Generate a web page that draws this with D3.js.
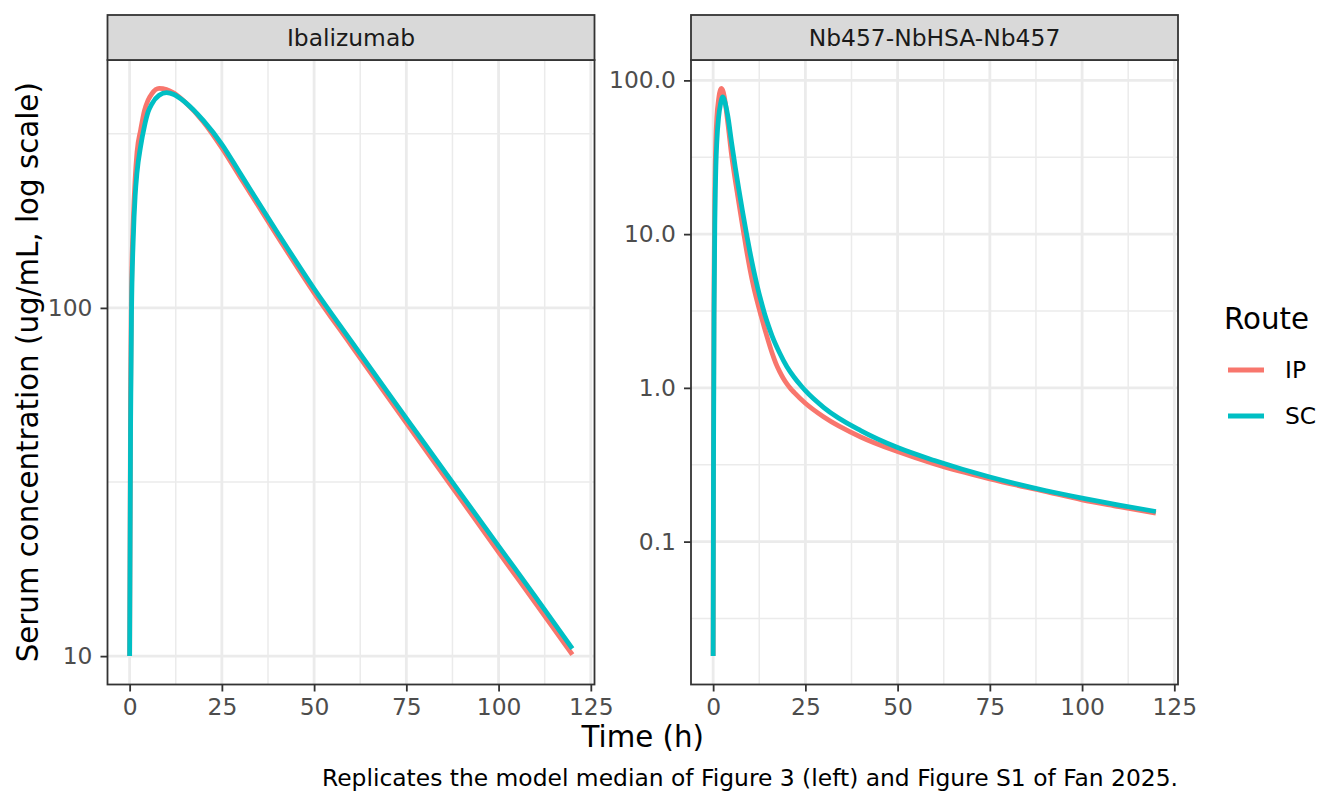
<!DOCTYPE html>
<html>
<head>
<meta charset="utf-8">
<script src="https://cdn.jsdelivr.net/npm/d3@7"></script>
<style>
  body { margin: 0; background: #ffffff; }
  svg { display: block; font-family: "DejaVu Sans", sans-serif; }
</style>
</head>
<body>
<svg></svg>
<script>
const width = 1344;
const height = 806;

const drugs = ["Ibalizumab", "Nb457-NbHSA-Nb457"];
const routes = ["IP", "SC"];
const routeColors = ["#F8766D", "#00BFC4"];

// Ibalizumab, time (h) and serum concentration (ug/mL)
const ibaIpTime = [0, 0.25, 0.5, 1, 1.5, 2, 3, 4, 5, 6, 8, 10, 12, 15, 20, 25, 30, 40, 50, 60, 70, 80, 90, 100, 110, 120];
const ibaIpConc = [10, 55, 110, 180, 235, 280, 325, 368, 395, 412, 427, 424, 414, 390, 342, 288, 237, 161, 110.5, 78.2, 55.4, 39.4, 28.0, 19.9, 14.2, 10.1];
const ibaScTime = [0, 0.25, 0.5, 1, 1.5, 2, 3, 4, 5, 6, 8, 10, 12, 15, 20, 25, 30, 40, 50, 60, 70, 80, 90, 100, 110, 120];
const ibaScConc = [10, 45, 95, 160, 210, 245, 292, 332, 365, 385, 408, 415, 410, 390, 345, 295, 243, 165, 113.5, 80.4, 57.1, 40.7, 29.0, 20.7, 14.8, 10.5];

// Nb457-NbHSA-Nb457
const nbIpTime = [0, 0.1, 0.25, 0.5, 0.75, 1, 1.5, 2, 2.2, 2.6, 3, 4, 5, 6, 7, 8, 9, 10, 11, 12, 13, 14, 15, 16, 17, 18, 19, 20, 21, 22, 25, 30, 40, 50, 60, 75, 90, 100, 110, 120];
const nbIpConc = [0.018, 0.5, 5, 22, 42, 57, 76, 87, 88.7, 86, 79, 52.5, 32.7, 22.4, 15.8, 11.2, 8.0, 5.89, 4.52, 3.61, 2.94, 2.41, 2.0, 1.68, 1.445, 1.28, 1.156, 1.062, 0.989, 0.931, 0.794, 0.646, 0.479, 0.385, 0.32, 0.256, 0.212, 0.187, 0.169, 0.153];
const nbScTime = [0, 0.1, 0.25, 0.5, 0.75, 1, 1.5, 2, 2.6, 3, 4, 5, 6, 7, 8, 9, 10, 11, 12, 13, 14, 15, 16, 18, 20, 22, 24, 25, 30, 40, 50, 60, 75, 90, 100, 110, 120];
const nbScConc = [0.018, 0.3, 3, 14, 28, 40, 58, 70, 78, 75, 58.2, 39.4, 27.2, 19.3, 13.9, 10.2, 7.6, 5.8, 4.55, 3.66, 3.0, 2.53, 2.17, 1.69, 1.37, 1.167, 1.02, 0.959, 0.745, 0.527, 0.409, 0.337, 0.263, 0.215, 0.192, 0.173, 0.157];

const xTicks = [0, 25, 50, 75, 100, 125];
const ibaYTicks = [10, 100];
const ibaYLabels = ["10", "100"];
const nbYTicks = [0.1, 1, 10, 100];
const nbYLabels = ["0.1", "1.0", "10.0", "100.0"];

const xTitle = "Time (h)";
const yTitle = "Serum concentration (ug/mL, log scale)";
const legendTitle = "Route";
const caption = "Replicates the model median of Figure 3 (left) and Figure S1 of Fan 2025.";

const panelTop = 60;
const panelBottom = 684.5;
const stripTop = 15;
const panelX = [[107.5, 594.5], [691, 1178]];

const tickFont = 23.4;
const titleFont = 29.3;

const svg = d3.select("svg").attr("width", width).attr("height", height);

const zip = (t, c) => t.map((d, i) => [d, c[i]]);

const panelData = [
    [zip(ibaIpTime, ibaIpConc), zip(ibaScTime, ibaScConc)],
    [zip(nbIpTime, nbIpConc), zip(nbScTime, nbScConc)]
];
const panelYTicks = [ibaYTicks, nbYTicks];
const panelYLabels = [ibaYLabels, nbYLabels];

// x is shared by the facets, ggplot style 5% expansion
const allPoints = panelData.flat(2);
const tExtent = d3.extent(allPoints, d => d[0]);
const tPad = (tExtent[1] - tExtent[0]) * 0.05;

const drawPanel = (p) => {
    const [left, right] = panelX[p];
    const series = panelData[p];
    const pts = series.flat();

    const xScale = d3.scaleLinear()
        .domain([tExtent[0] - tPad, tExtent[1] + tPad])
        .range([left, right]);

    const lo = Math.log10(d3.min(pts, d => d[1]));
    const hi = Math.log10(d3.max(pts, d => d[1]));
    const pad = (hi - lo) * 0.05;
    const yScale = d3.scaleLog()
        .domain([Math.pow(10, lo - pad), Math.pow(10, hi + pad)])
        .range([panelBottom, panelTop]);

    const g = svg.append("g").attr("class", "panel");

    // grid
    const xMinor = d3.range(-12.5, 150, 25).filter(v => v >= xScale.domain()[0] && v <= xScale.domain()[1]);
    const yMinor = d3.range(Math.floor(lo - pad) - 1, Math.ceil(hi + pad) + 1)
        .map(k => Math.pow(10, k + 0.5))
        .filter(v => v >= yScale.domain()[0] && v <= yScale.domain()[1]);

    g.selectAll(".xminor").data(xMinor).enter().append("line")
        .attr("x1", d => xScale(d)).attr("x2", d => xScale(d))
        .attr("y1", panelTop).attr("y2", panelBottom)
        .attr("stroke", "#ebebeb").attr("stroke-width", 1.5);
    g.selectAll(".yminor").data(yMinor).enter().append("line")
        .attr("x1", left).attr("x2", right)
        .attr("y1", d => yScale(d)).attr("y2", d => yScale(d))
        .attr("stroke", "#ebebeb").attr("stroke-width", 1.5);
    g.selectAll(".xmajor").data(xTicks.filter(v => v <= xScale.domain()[1])).enter().append("line")
        .attr("x1", d => xScale(d)).attr("x2", d => xScale(d))
        .attr("y1", panelTop).attr("y2", panelBottom)
        .attr("stroke", "#ebebeb").attr("stroke-width", 2.8);
    g.selectAll(".ymajor").data(panelYTicks[p]).enter().append("line")
        .attr("x1", left).attr("x2", right)
        .attr("y1", d => yScale(d)).attr("y2", d => yScale(d))
        .attr("stroke", "#ebebeb").attr("stroke-width", 2.8);

    // lines, IP first so SC sits on top
    const line = d3.line()
        .x(d => xScale(d[0]))
        .y(d => yScale(d[1]))
        .curve(d3.curveMonotoneX);

    g.selectAll(".route").data(series).enter().append("path")
        .attr("d", d => line(d))
        .attr("fill", "none")
        .attr("stroke", (d, i) => routeColors[i])
        .attr("stroke-width", 4.8)
        .attr("stroke-linejoin", "round");

    // border
    g.append("rect")
        .attr("x", left).attr("y", panelTop)
        .attr("width", right - left).attr("height", panelBottom - panelTop)
        .attr("fill", "none").attr("stroke", "#333333").attr("stroke-width", 1.8);

    // strip
    g.append("rect")
        .attr("x", left).attr("y", stripTop)
        .attr("width", right - left).attr("height", panelTop - stripTop)
        .attr("fill", "#d9d9d9").attr("stroke", "#333333").attr("stroke-width", 1.8);
    g.append("text")
        .attr("x", (left + right) / 2).attr("y", (stripTop + panelTop) / 2)
        .attr("dy", "0.35em")
        .attr("text-anchor", "middle")
        .attr("font-size", tickFont)
        .attr("fill", "#1a1a1a")
        .text(drugs[p]);

    // axes
    const xAxis = d3.axisBottom(xScale).tickValues(xTicks).tickSize(7).tickPadding(7);
    const yAxis = d3.axisLeft(yScale).tickValues(panelYTicks[p]).tickSize(7).tickPadding(8)
        .tickFormat((d, i) => panelYLabels[p][i]);

    const xg = svg.append("g")
        .attr("transform", "translate(0," + panelBottom + ")")
        .call(xAxis);
    const yg = svg.append("g")
        .attr("transform", "translate(" + left + ",0)")
        .call(yAxis);

    [xg, yg].forEach(ax => {
        ax.select(".domain").remove();
        ax.selectAll(".tick line").attr("stroke", "#333333").attr("stroke-width", 1.8);
        ax.selectAll(".tick text")
            .attr("fill", "#4d4d4d")
            .attr("font-size", tickFont)
            .attr("font-family", "DejaVu Sans");
    });
}

const setTitles = () => {
    svg.append("text")
        .attr("x", (panelX[0][0] + panelX[1][1]) / 2)
        .attr("y", 747)
        .attr("text-anchor", "middle")
        .attr("font-size", titleFont)
        .text(xTitle);

    svg.append("text")
        .attr("transform", "translate(37.5," + (panelTop + panelBottom) / 2 + ") rotate(-90)")
        .attr("text-anchor", "middle")
        .attr("font-size", titleFont)
        .text(yTitle);

    svg.append("text")
        .attr("x", panelX[1][1])
        .attr("y", 786)
        .attr("text-anchor", "end")
        .attr("font-size", tickFont)
        .text(caption);
}

const setLegend = () => {
    const lg = svg.append("g").attr("transform", "translate(1224,0)");
    lg.append("text")
        .attr("x", 0).attr("y", 329)
        .attr("font-size", titleFont)
        .text(legendTitle);

    const keyY = d3.scalePoint().domain(routes).range([370, 416]);

    lg.selectAll(".key").data(routes).enter().append("line")
        .attr("x1", 4).attr("x2", 40)
        .attr("y1", d => keyY(d)).attr("y2", d => keyY(d))
        .attr("stroke", (d, i) => routeColors[i])
        .attr("stroke-width", 4.8);

    lg.selectAll(".label").data(routes).enter().append("text")
        .attr("x", 61)
        .attr("y", d => keyY(d))
        .attr("dy", "0.36em")
        .attr("font-size", tickFont)
        .text(d => d);
}

drawPanel(0);
drawPanel(1);
setTitles();
setLegend();
</script>
</body>
</html>
